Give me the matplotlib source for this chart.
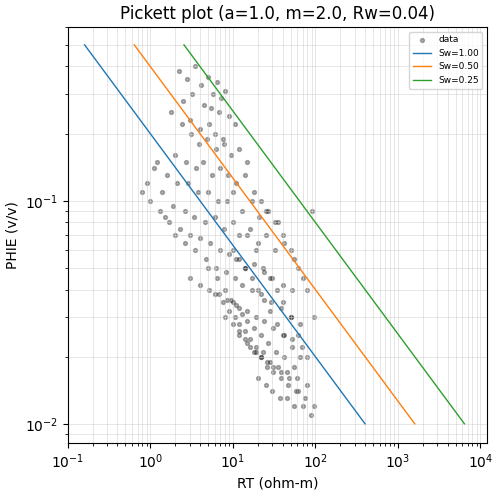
import numpy as np
import matplotlib
matplotlib.use("Agg")
import matplotlib.pyplot as plt

a, m, Rw = 1.0, 2.0, 0.04
sw_values = [1.00, 0.50, 0.25]
sw_colors = ["#1f77b4", "#ff7f0e", "#2ca02c"]

rt = [2.2,2.8,3.5,4.1,5.0,5.8,6.5,7.2,8.0,2.5,3.2,4.5,5.5,6.8,9.0,10.5,3.0,4.0,5.2,6.0,7.5,
      1.8,2.4,3.1,3.9,4.8,6.2,7.8,9.5,12,15,2.0,2.7,3.6,4.4,5.6,7.0,8.8,11,14,18,22,
      1.2,1.6,2.1,2.9,3.8,5.0,6.6,8.5,10,13,17,21,27,35,
      0.9,1.1,1.4,1.9,2.6,3.4,4.6,6.1,7.9,10,12,16,20,25,32,42,55,
      0.8,1.0,1.3,1.7,2.3,3.0,4.0,5.3,7.0,9.0,11,14,18,24,30,40,52,70,90,
      1.5,2.0,2.6,3.5,4.7,6.3,8.2,10.5,13,17,22,29,38,50,65,
      3.0,4.0,5.2,6.8,8.5,10,12,15,19,24,31,40,52,68,
      5.0,6.5,8.0,9.5,11,13,15,18,22,27,33,42,55,
      6.0,7.5,9.0,10.5,12,14,16,19,23,28,35,45,60,80,
      8.0,10,12,14,16,19,22,26,31,38,48,62,
      10,12,14,17,20,24,28,34,42,52,66,
      12,15,18,22,26,31,38,46,58,75,95,
      15,19,23,28,34,41,50,62,80,
      20,25,30,37,45,55,70,88,
      25,32,40,50,62,80,95]
phie = [0.38,0.35,0.40,0.33,0.36,0.30,0.34,0.29,0.31,0.28,0.30,0.27,0.26,0.25,0.24,0.22,0.23,0.21,0.22,0.20,0.19,
        0.25,0.22,0.20,0.18,0.19,0.17,0.18,0.16,0.17,0.15,0.16,0.15,0.14,0.15,0.13,0.14,0.13,0.12,0.13,0.11,0.10,
        0.15,0.13,0.12,0.12,0.11,0.11,0.10,0.10,0.11,0.09,0.10,0.085,0.09,0.08,
        0.12,0.14,0.11,0.095,0.09,0.085,0.08,0.085,0.075,0.08,0.07,0.075,0.065,0.07,0.06,0.065,0.055,
        0.11,0.10,0.09,0.08,0.075,0.07,0.068,0.065,0.06,0.058,0.055,0.05,0.052,0.048,0.045,0.042,0.04,0.045,0.09,
        0.085,0.07,0.065,0.06,0.055,0.05,0.048,0.045,0.042,0.04,0.038,0.035,0.033,0.03,0.028,
        0.045,0.042,0.04,0.038,0.036,0.035,0.033,0.032,0.03,0.029,0.027,0.025,0.024,0.022,
        0.05,0.045,0.04,0.036,0.034,0.031,0.029,0.027,0.025,0.023,0.021,0.02,0.018,
        0.038,0.035,0.032,0.03,0.028,0.026,0.024,0.022,0.021,0.019,0.018,0.017,0.016,0.015,
        0.03,0.028,0.026,0.024,0.022,0.021,0.02,0.019,0.018,0.017,0.016,0.014,
        0.06,0.055,0.05,0.045,0.04,0.036,0.032,0.028,0.025,0.022,0.02,
        0.025,0.023,0.021,0.02,0.018,0.017,0.016,0.015,0.014,0.013,0.012,
        0.07,0.06,0.05,0.045,0.04,0.035,0.03,0.025,0.02,
        0.016,0.015,0.014,0.013,0.013,0.012,0.012,0.011,
        0.09,0.08,0.07,0.06,0.05,0.04,0.03]

fig, ax = plt.subplots(figsize=(5.02, 4.95), dpi=100)
ax.scatter(rt, phie, s=8, c="black", alpha=0.3, label="data")
phi_line = np.array([0.5, 0.01])
for sw, col in zip(sw_values, sw_colors):
    rt_line = a * Rw / (phi_line ** m * sw ** 2)
    ax.plot(rt_line, phi_line, color=col, lw=1, label=f"Sw={sw:.2f}")
ax.set_xscale("log"); ax.set_yscale("log")
ax.set_xlim(0.1, 1.2e4); ax.set_ylim(0.0082, 0.6)
ax.grid(True, which="both", color="#cccccc", lw=0.5, alpha=0.7)
ax.set_xlabel("RT (ohm-m)"); ax.set_ylabel("PHIE (v/v)")
ax.set_title("Pickett plot (a=1.0, m=2.0, Rw=0.04)")
ax.legend(loc="upper right", fontsize=6.5)
fig.subplots_adjust(left=0.135, right=0.97, top=0.945, bottom=0.105)
fig.savefig("out.png")
